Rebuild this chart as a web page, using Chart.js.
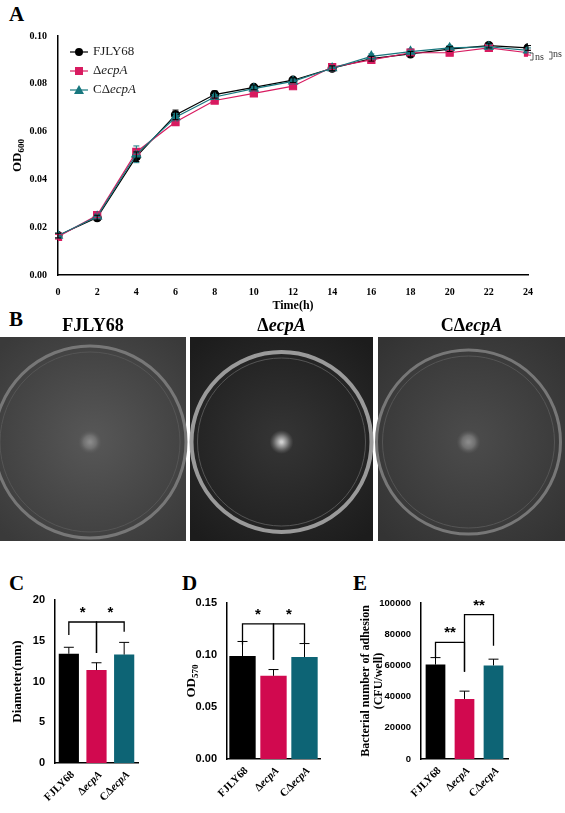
<!DOCTYPE html>
<html><head><meta charset="utf-8">
<script src="https://cdn.jsdelivr.net/npm/chart.js@4"></script>
<style>
body{margin:0;background:#fff;width:565px;height:813px;position:relative;overflow:hidden}
canvas{position:absolute}
.lt{position:absolute;font:bold 21px "Liberation Serif";}
</style></head><body>
<div class="lt" style="left:9px;top:2px">A</div>
<div class="lt" style="left:9px;top:307px">B</div>
<div class="lt" style="left:9px;top:571px">C</div>
<div class="lt" style="left:182px;top:571px">D</div>
<div class="lt" style="left:353px;top:571px">E</div>
<canvas id="cB" width="565" height="260" style="left:0;top:300px"></canvas>
<div style="position:absolute;left:0;top:0;width:565px;height:315px"><canvas id="cA"></canvas></div>
<div style="position:absolute;left:0;top:560px;width:185px;height:253px"><canvas id="cC"></canvas></div>
<div style="position:absolute;left:180px;top:560px;width:185px;height:253px"><canvas id="cD"></canvas></div>
<div style="position:absolute;left:360px;top:560px;width:185px;height:253px"><canvas id="cE"></canvas></div>
<script>
// ---- data ----
const hours = [0,2,4,6,8,10,12,14,16,18,20,22,24];
const odWT  = [0.0165,0.024,0.0495,0.067,0.0755,0.0785,0.0815,0.0865,0.0905,0.0925,0.0945,0.096,0.095];
const odDel = [0.016,0.025,0.0515,0.064,0.073,0.076,0.079,0.087,0.090,0.093,0.093,0.095,0.093];
const odCom = [0.0165,0.0245,0.0505,0.066,0.0745,0.078,0.081,0.0865,0.0915,0.0935,0.095,0.0955,0.094];
const odWTerr  = [0.001,0.001,0.002,0.002,0.0015,0.001,0.001,0.001,0.001,0.001,0.001,0.001,0.001];
const odDelerr = [0.001,0.001,0.001,0.001,0.001,0.001,0.001,0.001,0.001,0.0015,0.001,0.001,0.001];
const odComerr = [0.001,0.001,0.0035,0.0015,0.001,0.001,0.001,0.001,0.001,0.001,0.001,0.001,0.001];
const yTicksA = [0,0.02,0.04,0.06,0.08,0.10];
const strains = ["FJLY68","ΔecpA","CΔecpA"];
const diam = [13.4,11.4,13.3], diamErr = [0.8,0.9,1.5];
const biofilm = [0.099,0.080,0.098], biofilmErr = [0.014,0.006,0.013];
const adhesion = [60500,38500,60000], adhesionErr = [4500,5000,4000];
const barColors = ["#000000","#d1094f","#0d6475"];
const lineColors = ["#000000","#d81b60","#17777e"];

const SERIF = '"Liberation Serif"', SANS = '"Liberation Sans"';
function nameParts(n){
  if(n==="ΔecpA") return [{t:"Δ"},{t:"ecpA",i:1}];
  if(n==="CΔecpA") return [{t:"CΔ"},{t:"ecpA",i:1}];
  return [{t:n}];
}
function fontOf(p,size,bold,fam){return (p.i?"italic ":"")+(bold?"bold ":"")+(p.sub?Math.round(size*0.7):size)+"px "+fam;}
function rich(ctx,parts,x,y,size,bold,fam,align){
  let w=0; parts.forEach(p=>{ctx.font=fontOf(p,size,bold,fam);w+=ctx.measureText(p.t).width;});
  let sx = align==="right"?x-w:align==="center"?x-w/2:x;
  ctx.textAlign="left";
  parts.forEach(p=>{ctx.font=fontOf(p,size,bold,fam);ctx.fillText(p.t,sx,y+(p.sub?size*0.3:0));sx+=ctx.measureText(p.t).width;});
}

// ---- Panel A ----
const errPlugin = {id:'err',afterDatasetsDraw(ch){
  const ctx=ch.ctx, ys=ch.scales.y;
  ch.data.datasets.forEach((ds,di)=>{
    const meta=ch.getDatasetMeta(di);
    ctx.save();ctx.strokeStyle=ds.errColor||ds.borderColor;ctx.lineWidth=1;
    meta.data.forEach((el,i)=>{
      const v=ds.data[i], e=ds.err[i];
      const isBar=ch.config.type==='bar';
      const y1=ys.getPixelForValue(v+e), y0=ys.getPixelForValue(isBar?v:v-e);
      const cw=ds.cap||4;
      ctx.beginPath();ctx.moveTo(el.x,y0);ctx.lineTo(el.x,y1);
      ctx.moveTo(el.x-cw,y1);ctx.lineTo(el.x+cw,y1);
      if(!isBar){ctx.moveTo(el.x-cw,y0);ctx.lineTo(el.x+cw,y0);}
      ctx.stroke();
    });
    ctx.restore();
  });
}};
const annA = {id:'annA',afterDraw(ch){
  const ctx=ch.ctx, ca=ch.chartArea;
  ctx.save();ctx.fillStyle="#000";ctx.textBaseline="middle";
  ctx.save();ctx.translate(18,(ca.top+ca.bottom)/2);ctx.rotate(-Math.PI/2);
  rich(ctx,[{t:"OD"},{t:"600",sub:1}],0,0,13,true,SERIF,"center");ctx.restore();
  rich(ctx,[{t:"Time(h)"}],(ca.left+ca.right)/2,306,12,true,SERIF,"center");
  strains.forEach((n,i)=>{
    const y=52+i*19;
    ctx.strokeStyle=lineColors[i];ctx.fillStyle=lineColors[i];ctx.lineWidth=1.2;
    ctx.beginPath();ctx.moveTo(70,y);ctx.lineTo(88,y);ctx.stroke();
    ctx.beginPath();
    if(i===0)ctx.arc(79,y,4,0,7);else if(i===1)ctx.rect(75,y-4,8,8);else{ctx.moveTo(79,y-5);ctx.lineTo(84,y+4);ctx.lineTo(74,y+4);}
    ctx.fill();
    ctx.fillStyle="#222";rich(ctx,nameParts(n),93,y,13,false,SERIF,"left");
  });
  ctx.strokeStyle="#333";ctx.lineWidth=0.8;ctx.fillStyle="#333";
  ctx.beginPath();ctx.moveTo(530,53);ctx.lineTo(533,53);ctx.lineTo(533,60);ctx.lineTo(530,60);
  ctx.moveTo(549,52);ctx.lineTo(552,52);ctx.lineTo(552,59);ctx.lineTo(549,59);ctx.stroke();
  ctx.font="10px "+SERIF;ctx.textAlign="left";ctx.fillText("ns",535,57);ctx.fillText("ns",553,54);
  ctx.restore();
}};
function lineDs(label,data,err,c,style,r){return {label,data,err,borderColor:c,backgroundColor:c,pointStyle:style,pointRadius:r,borderWidth:1.2,cap:3};}
new Chart(document.getElementById('cA'),{type:'line',
  data:{labels:hours,datasets:[lineDs("CΔecpA",odCom,odComerr,lineColors[2],'triangle',5),lineDs("ΔecpA",odDel,odDelerr,lineColors[1],'rect',5),lineDs("FJLY68",odWT,odWTerr,lineColors[0],'circle',4)]},
  options:{responsive:true,maintainAspectRatio:false,animation:false,
    layout:{padding:{top:36,right:37,left:0,bottom:0}},
    plugins:{legend:{display:false},tooltip:{enabled:false}},
    scales:{
      x:{type:'linear',min:0,max:24,grid:{display:false},border:{color:'#000',width:1.5},
        afterBuildTicks:s=>{s.ticks=hours.map(v=>({value:v}));},
        ticks:{color:'#000',font:{family:SERIF,weight:'bold',size:10},maxRotation:0},
        afterFit:s=>{s.height=40;}},
      y:{min:0,max:0.10,grid:{display:false},border:{color:'#000',width:1.5},
        afterBuildTicks:s=>{s.ticks=yTicksA.map(v=>({value:v}));},
        ticks:{color:'#000',font:{family:SERIF,weight:'bold',size:10},callback:v=>v.toFixed(2)},
        afterFit:s=>{s.width=58;}}
    }},plugins:[errPlugin,annA]});

// ---- Panel B (photographs) ----
(function(){
  const c=document.getElementById('cB'),ctx=c.getContext('2d');
  const boxes=[[0,186,'#3a3a3a','#555'],[190,183,'#1c1c1c','#333'],[378,187,'#333','#4a4a4a']];
  ctx.textBaseline="middle";ctx.fillStyle="#000";
  strains.forEach((n,i)=>{const b=boxes[i];rich(ctx,nameParts(n),b[0]+b[1]/2,26,18,true,SERIF,"center");});
  boxes.forEach((b,i)=>{
    const x=b[0],w=b[1],y=37,h=204;
    const g=ctx.createRadialGradient(x+w/2,y+h/2,10,x+w/2,y+h/2,w*0.7);
    g.addColorStop(0,b[3]);g.addColorStop(1,b[2]);
    ctx.fillStyle=g;ctx.fillRect(x,y,w,h);
    const cx=x+w/2+(i===1?0:-3), cy=y+h/2+3, r=i===1?90:i===0?96:92;
    ctx.lineWidth=i===1?4:3;ctx.strokeStyle=i===1?'#9a9a9a':'#777';
    ctx.beginPath();ctx.arc(cx,cy,r,0,7);ctx.stroke();
    ctx.lineWidth=1;ctx.strokeStyle='#555';
    ctx.beginPath();ctx.arc(cx,cy,r-6,0,7);ctx.stroke();
    const sg=ctx.createRadialGradient(cx,cy,1,cx,cy,12);
    sg.addColorStop(0,i===1?'#cfcfcf':'#8a8a8a');sg.addColorStop(0.5,i===1?'#777':'#707070');sg.addColorStop(1,'rgba(90,90,90,0)');
    ctx.fillStyle=sg;ctx.beginPath();ctx.arc(cx,cy,12,0,7);ctx.fill();
  });
})();

// ---- Bar panels ----
function barChart(id,vals,errs,ymax,step,dec,yw,padTop,xh,padR,bp,tickSize,title,brackets){
  const ticksV=[];for(let v=0;v<=ymax+1e-9;v+=step)ticksV.push(+v.toFixed(6));
  const ann={id:'ann'+id,afterDraw(ch){
    const ctx=ch.ctx,xs=ch.scales.x,ys=ch.scales.y,ca=ch.chartArea;
    ctx.save();ctx.fillStyle="#000";ctx.strokeStyle="#000";ctx.lineWidth=1.3;ctx.textBaseline="middle";
    strains.forEach((n,i)=>{
      ctx.save();ctx.translate(xs.getPixelForValue(i)+4,ca.bottom+10);ctx.rotate(-Math.PI/4);
      rich(ctx,nameParts(n),0,0,11,true,SERIF,"right");ctx.restore();
    });
    ctx.save();ctx.translate(title.x,(ca.top+ca.bottom)/2);ctx.rotate(-Math.PI/2);
    title.lines.forEach((ln,k)=>rich(ctx,ln,0,k*13,title.size||13,true,SERIF,"center"));ctx.restore();
    brackets.forEach(b=>{
      const xa=xs.getPixelForValue(b[0]),xb=xs.getPixelForValue(b[1]);
      ctx.beginPath();ctx.moveTo(xa,ys.getPixelForValue(b[3]));ctx.lineTo(xa,ys.getPixelForValue(b[2]));
      ctx.lineTo(xb,ys.getPixelForValue(b[2]));ctx.lineTo(xb,ys.getPixelForValue(b[4]));ctx.stroke();
      ctx.font="bold 15px "+SANS;ctx.textAlign="center";
      ctx.fillText(b[5],(xa+xb)/2,ys.getPixelForValue(b[2])-9);
    });
    ctx.restore();
  }};
  new Chart(document.getElementById(id),{type:'bar',
    data:{labels:strains,datasets:[{data:vals,err:errs,backgroundColor:barColors,borderColor:barColors,errColor:barColors,cap:5,barPercentage:bp,categoryPercentage:1}]},
    options:{responsive:true,maintainAspectRatio:false,animation:false,
      layout:{padding:{top:padTop,right:padR}},
      plugins:{legend:{display:false},tooltip:{enabled:false}},
      scales:{
        x:{grid:{display:false},border:{color:'#000',width:1.5},ticks:{display:false},afterFit:s=>{s.height=xh;}},
        y:{min:0,max:ymax,grid:{display:false},border:{color:'#000',width:1.5},
          afterBuildTicks:s=>{s.ticks=ticksV.map(v=>({value:v}));},
          ticks:{color:'#000',padding:2,font:{family:SANS,weight:'bold',size:tickSize},callback:v=>v.toFixed(dec)},
          afterFit:s=>{s.width=yw;}}
      }},plugins:[errPlugin,ann]});
}
barChart('cC',diam,diamErr,20,5,0,55,40,50,47,0.73,11,{x:18,lines:[[{t:"Diameter(mm)"}]]},
  [[0,1,17.3,15.7,13.5,"*"],[1,2,17.3,13.5,16.1,"*"]]);
barChart('cD',biofilm,biofilmErr,0.15,0.05,2,47,43,54,45,0.85,11,{x:12,lines:[[{t:"OD"},{t:"570",sub:1}]]},
  [[0,1,0.130,0.110,0.0955,"*"],[1,2,0.130,0.0955,0.1115,"*"]]);
barChart('cE',adhesion,adhesionErr,100000,20000,0,61,43,54,37,0.68,9.5,{x:6,size:12,lines:[[{t:"Bacterial number of adhesion"}],[{t:"(CFU/well)"}]]},
  [[0,1,74800,64700,56000,"**"],[1,2,92500,56000,72600,"**"]]);
</script></body></html>
